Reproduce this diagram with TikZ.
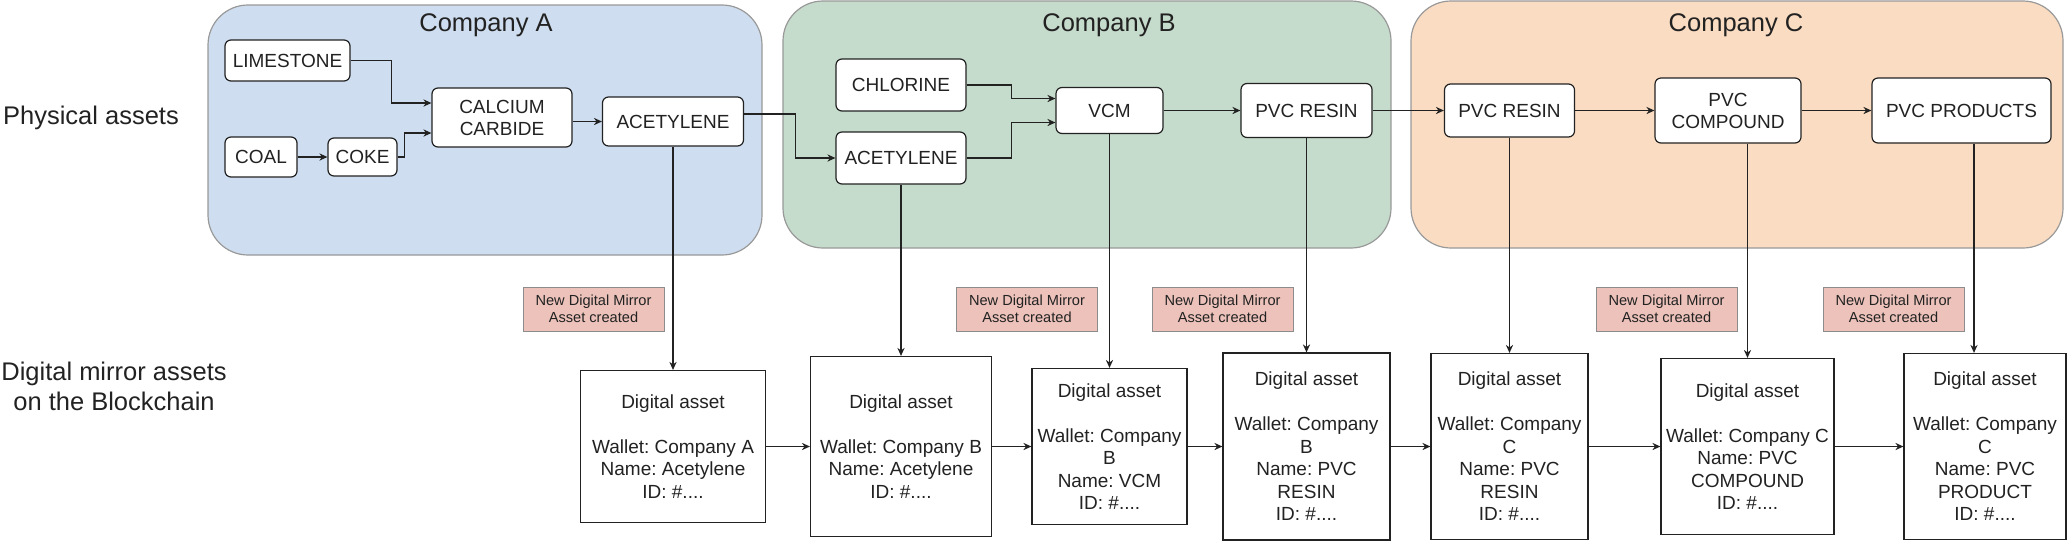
\documentclass[tikz,border=0pt]{standalone}
\usepackage{fontspec}
\setmainfont{Liberation Sans}
\usetikzlibrary{arrows.meta}
\frenchspacing

\definecolor{fillA}{RGB}{206,221,239}
\definecolor{fillB}{RGB}{197,219,203}
\definecolor{fillC}{RGB}{250,220,194}
\definecolor{notefill}{RGB}{236,194,186}
\definecolor{ink}{RGB}{34,34,34}

\tikzset{
    area/.style={draw=black!40, rounded corners=20pt, inner sep=0pt, line width=0.6pt},
    title/.style={text=ink, font=\fontsize{12.75}{15}\selectfont},
    mat/.style={draw=ink, fill=white, rounded corners=3pt, align=center, inner sep=0pt,
        text=ink, line width=0.6pt, font=\fontsize{9.5}{11}\selectfont},
    dbox/.style={draw=ink, fill=white, align=center, inner sep=0pt, text=ink,
        line width=0.6pt, font=\fontsize{9.5}{11.25}\selectfont},
    note/.style={draw=black!45, fill=notefill, align=center, inner sep=0pt, text=ink,
        minimum width=70.5pt, minimum height=22pt, font=\fontsize{7.3}{8.5}\selectfont},
    link/.style={draw=ink, line width=0.6pt, ->}
}

\begin{document}
\begin{tikzpicture}[x=0.5pt, y=-0.5pt, >={Stealth[length=4pt,width=3.6pt]}]
    \useasboundingbox (0,0) rectangle (2067,542);

    \path (485,130) node [area, fill=fillA, minimum width=277pt, minimum height=125pt] (compA) {};
    \path (1087,124.5) node [area, fill=fillB, minimum width=304pt, minimum height=123.5pt] (compB) {};
    \path (1737,124.5) node [area, fill=fillC, minimum width=326pt, minimum height=123.5pt] (compC) {};
    \path (486,25) node [title] (tA) {Company A};
    \path (1109,25) node [title] (tB) {Company B};
    \path (1736,25) node [title] (tC) {Company C};

    \path (91,118) node [title] (phys) {Physical assets};
    \path (114,386) node [title, align=center] (digi) {Digital mirror assets\\on the Blockchain};

    \path (287.5,60.5) node [mat, minimum width=62.5pt, minimum height=20.5pt] (lime) {LIMESTONE};
    \path (261,157) node [mat, minimum width=36pt, minimum height=20pt] (coal) {COAL};
    \path (362.5,157) node [mat, minimum width=34.5pt, minimum height=19pt] (coke) {COKE};
    \path (502,117.5) node [mat, minimum width=70pt, minimum height=29.5pt] (carb) {CALCIUM\\CARBIDE};
    \path (673,121.5) node [mat, minimum width=70.5pt, minimum height=24.5pt] (acA) {ACETYLENE};
    \path (901,85) node [mat, minimum width=65pt, minimum height=26pt] (chl) {CHLORINE};
    \path (901,158) node [mat, minimum width=65pt, minimum height=26pt] (acB) {ACETYLENE};
    \path (1109.5,110.5) node [mat, minimum width=53.5pt, minimum height=23pt] (vcm) {VCM};
    \path (1306.5,110.5) node [mat, minimum width=65.5pt, minimum height=27pt] (resB) {PVC RESIN};
    \path (1509.5,110.5) node [mat, minimum width=65pt, minimum height=26.5pt] (resC) {PVC RESIN};
    \path (1728,110.5) node [mat, minimum width=73pt, minimum height=32.5pt] (comp) {PVC\\COMPOUND};
    \path (1961.5,110.5) node [mat, minimum width=89.5pt, minimum height=32.5pt] (prod) {PVC PRODUCTS};

    \draw [link] (lime.east) -- ++(41,0) |- ([yshift=7.25pt]carb.west);
    \draw [link] (coal) -- (coke);
    \draw [link] (coke.east) -- ++(7,0) |- ([yshift=-7.75pt]carb.west);
    \draw [link] (carb.east |- acA) -- (acA);
    \draw [link] ([yshift=3.75pt]acA.east) -- ++(51,0) |- (acB.west);
    \draw [link] (chl.east) -- ++(45,0) |- ([yshift=6pt]vcm.west);
    \draw [link] (acB.east) -- ++(45,0) |- ([yshift=-6pt]vcm.west);
    \draw [link] (vcm) -- (resB);
    \draw [link] (resB) -- (resC);
    \draw [link] (resC) -- (comp);
    \draw [link] (comp) -- (prod);

    \path (593.5,309) node [note] (n1) {New Digital Mirror\\Asset created};
    \path (1027,309) node [note] (n2) {New Digital Mirror\\Asset created};
    \path (1222.5,309) node [note] (n3) {New Digital Mirror\\Asset created};
    \path (1666.5,309) node [note] (n4) {New Digital Mirror\\Asset created};
    \path (1893.5,309) node [note] (n5) {New Digital Mirror\\Asset created};

    \path (673,446.5) node [dbox, minimum width=92.5pt, minimum height=76pt] (d1)
        {Digital asset\\[11.25pt]Wallet: Company A\\Name: Acetylene\\ID: \#....};
    \path (901,446.5) node [dbox, minimum width=90.5pt, minimum height=90pt] (d2)
        {Digital asset\\[11.25pt]Wallet: Company B\\Name: Acetylene\\ID: \#....};
    \path (1109.5,446.5) node [dbox, minimum width=77.5pt, minimum height=78pt] (d3)
        {Digital asset\\[11.25pt]Wallet: Company\\B\\Name: VCM\\ID: \#....};
    \path (1306.5,446.5) node [dbox, minimum width=83.5pt, minimum height=93.5pt] (d4)
        {Digital asset\\[11.25pt]Wallet: Company\\B\\Name: PVC\\RESIN\\ID: \#....};
    \path (1509.5,446.5) node [dbox, minimum width=78.5pt, minimum height=93pt] (d5)
        {Digital asset\\[11.25pt]Wallet: Company\\C\\Name: PVC\\RESIN\\ID: \#....};
    \path (1747.5,446.5) node [dbox, minimum width=86.5pt, minimum height=88pt] (d6)
        {Digital asset\\[11.25pt]Wallet: Company C\\Name: PVC\\COMPOUND\\ID: \#....};
    \path (1985,446.5) node [dbox, minimum width=81pt, minimum height=93pt] (d7)
        {Digital asset\\[11.25pt]Wallet: Company\\C\\Name: PVC\\PRODUCT\\ID: \#....};

    \draw [link] (acA) -- (d1);
    \draw [link] (acB) -- (d2);
    \draw [link] (vcm) -- (d3);
    \draw [link] (resB) -- (d4);
    \draw [link] (resC) -- (d5);
    \draw [link] (comp.south -| d6.north) -- (d6.north);
    \draw [link] ([xshift=6.25pt]prod.south) -- ([xshift=6.25pt]prod.south |- d7.north);

    \draw [link] (d1) -- (d2);
    \draw [link] (d2) -- (d3);
    \draw [link] (d3) -- (d4);
    \draw [link] (d4) -- (d5);
    \draw [link] (d5) -- (d6);
    \draw [link] (d6) -- (d7);
\end{tikzpicture}
\end{document}
